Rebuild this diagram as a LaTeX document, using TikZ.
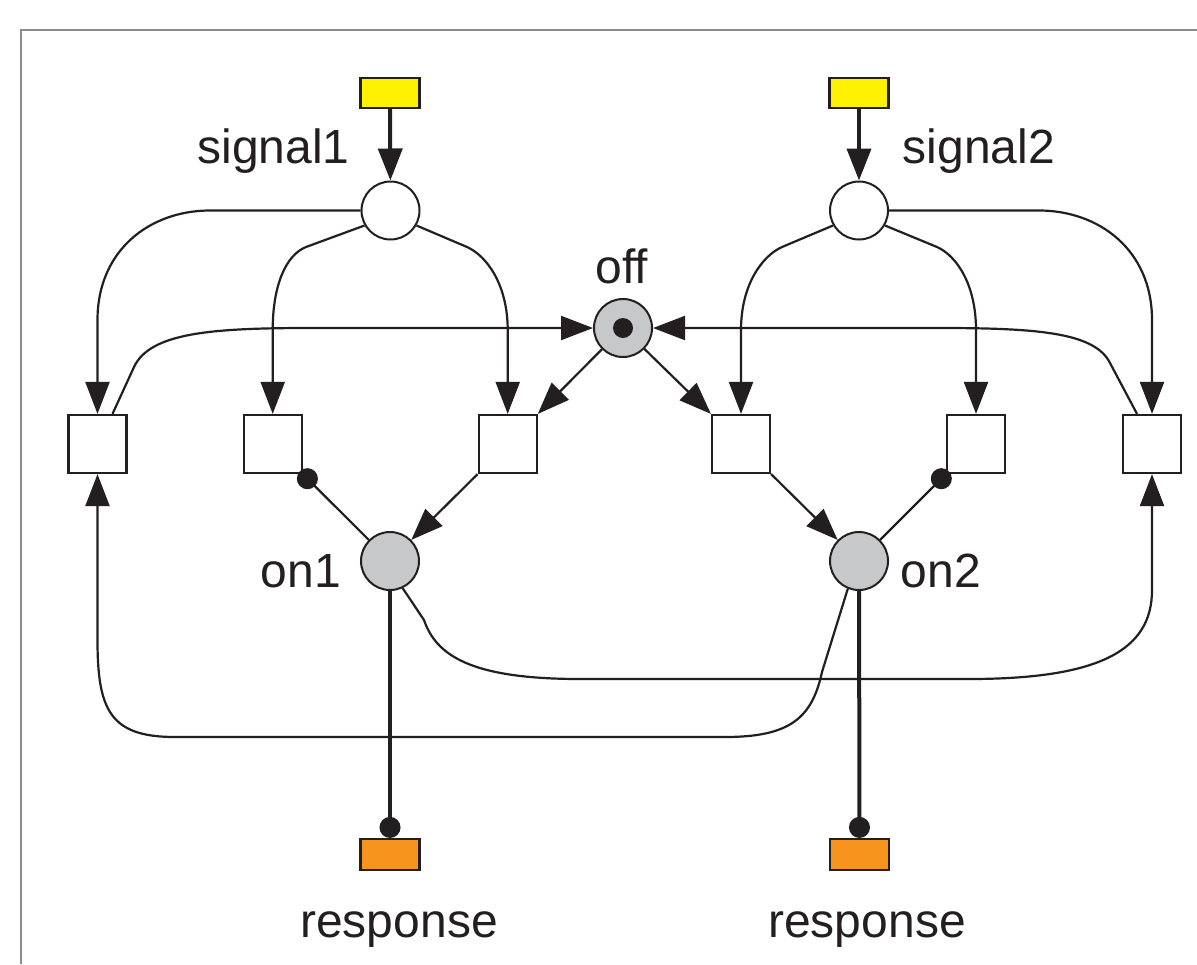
\documentclass[tikz,border=0pt]{standalone}
\usepackage{fontspec}
\setmainfont{Liberation Sans}
\usetikzlibrary{arrows.meta,calc}
\definecolor{ink}{HTML}{231F20}
\definecolor{sigyellow}{HTML}{FFF200}
\definecolor{resporange}{HTML}{F7941D}
\definecolor{placegray}{HTML}{C7C8CA}
\definecolor{framegray}{HTML}{8C8C8C}
\begin{document}
\begin{tikzpicture}[x=0.5pt,y=-0.5pt,
  every node/.style={font=\fontsize{24pt}{28pt}\selectfont, text=ink},
  place/.style={circle,draw=ink,line width=1pt,minimum size=29pt,inner sep=0pt,fill=white},
  marked/.style={place,fill=placegray},
  trans/.style={rectangle,draw=ink,line width=1.1pt,minimum size=29pt,inner sep=0pt,fill=white},
  iobox/.style={rectangle,draw=ink,line width=1.1pt,minimum width=29.5pt,minimum height=15pt,inner sep=0pt},
  arc/.style={draw=ink,line width=1.1pt,-{Triangle[length=16pt,width=12pt]}},
  thickarc/.style={draw=ink,line width=2pt,-{Triangle[length=16pt,width=12pt]}},
  inhib/.style={draw=ink,line width=1.1pt,-{Circle[length=10.5pt]},shorten >=-2pt},
  thickinhib/.style={draw=ink,line width=2pt,-{Circle[length=10.5pt]}},
  lbl/.style={anchor=base}
]
\useasboundingbox (0,0) rectangle (1197,964);
\fill[white] (0,0) rectangle (1197,964);
\draw[framegray,line width=0.7pt] (21,964) -- (21,30) -- (1197,30);

% input / output boxes
\node[iobox,fill=sigyellow] (Y1) at (390,93) {};
\node[iobox,fill=sigyellow] (Y2) at (859,93) {};
\node[iobox,fill=resporange,minimum height=15.5pt] (R1) at (390,854.5) {};
\node[iobox,fill=resporange,minimum height=15.5pt] (R2) at (859.5,854.5) {};

% places
\node[place] (S1) at (390.5,210.5) {};
\node[place] (S2) at (859,210.5) {};
\node[marked] (off) at (623,328) {};
\node[circle,fill=ink,minimum size=10pt,inner sep=0pt] (tok) at (off) {};
\node[marked] (on1) at (390,561) {};
\node[marked] (on2) at (859,561) {};

% transitions
\node[trans] (T1) at (97.5,444) {};
\node[trans] (T2) at (272.7,444) {};
\node[trans] (T3) at (507.7,444) {};
\node[trans] (T4) at (741,444) {};
\node[trans] (T5) at (976,444) {};
\node[trans] (T6) at (1152,444) {};

% labels
\node[lbl] (lsig1) at (273.5,163) {signal1};
\node[lbl] (lsig2) at (979,163) {signal2};
\node[lbl] (loff) at (622,283) {off};
\node[lbl] (lon1) at (301,587) {on1};
\node[lbl] (lon2) at (941,587) {on2};
\node[lbl] (lr1) at (399,937) {response};
\node[lbl] (lr2) at (867,937) {response};

% input arcs
\draw[thickarc] (Y1) -- (S1);
\draw[thickarc] (Y2) -- (S2);

% signal1 fan-out
\draw[arc] (S1.west) -- (210,210.5) .. controls (150,210.5) and (97.5,250) .. (97.5,320) -- (T1.north);
\draw[arc] (S1.210) -- (306,247) .. controls (286,255) and (272.7,285) .. (272.7,330) -- (T2.north);
\draw[arc] (S1.330) -- (467,247) .. controls (487,256) and (507.7,285) .. (507.7,330) -- (T3.north);

% signal2 fan-out
\draw[arc] (S2.east) -- (1039,210.5) .. controls (1099,210.5) and (1152,250) .. (1152,320) -- (T6.north);
\draw[arc] (S2.210) -- (782,247) .. controls (762,256) and (741,285) .. (741,330) -- (T4.north);
\draw[arc] (S2.330) -- (937,247) .. controls (957,256) and (976,285) .. (976,330) -- (T5.north);

% back to off
\draw[arc] ($(T1.north)+(15,0)$) -- (134,367) .. controls (150,333) and (210,328) .. (310,328) -- (off.west);
\draw[arc] ($(T6.north)+(-15,0)$) -- (1110,363) .. controls (1095,333) and (1040,328) .. (940,328) -- (off.east);

% off to transitions
\draw[arc] (off) -- (T3.north east);
\draw[arc] (off) -- (T4.north west);

% transitions to on places
\draw[arc] (T3.south west) -- (on1);
\draw[arc] (T4.south east) -- (on2);

% inhibitor arcs
\draw[inhib] (on1) -- (T2.south east);
\draw[inhib] (on2) -- (T5.south west);
\draw[thickinhib] (on1) -- (R1);
\draw[thickinhib] (on2) -- (R2);

% long loops
\draw[arc] (on1.-65) -- (424,620) .. controls (436,655) and (470,679) .. (580,679) -- (969,679) .. controls (1100,679) and (1152,650) .. (1152,590) -- (T6.south);
\draw[arc] (on2.-112) -- (822,672) .. controls (812,718) and (790,737) .. (725,737) -- (175,737) .. controls (110,737) and (97.5,710) .. (97.5,640) -- (T1.south);
\end{tikzpicture}
\end{document}
